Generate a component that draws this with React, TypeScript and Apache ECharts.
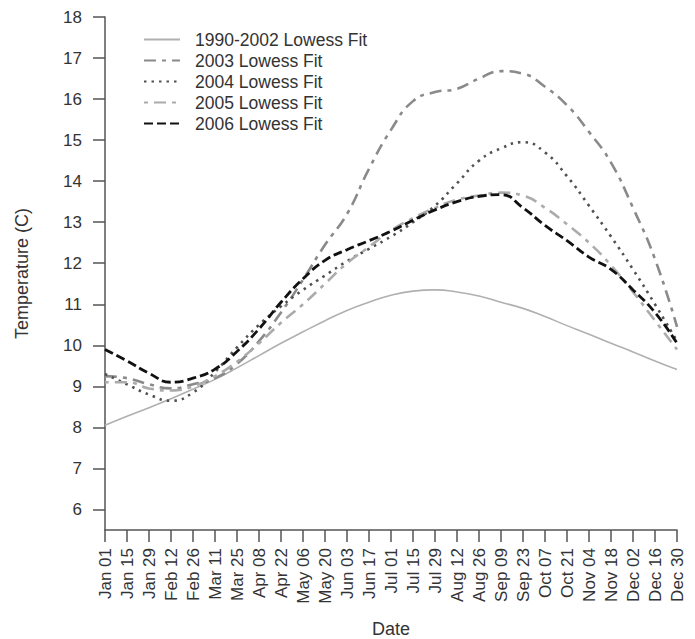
import React, { useEffect, useRef } from "react";
import * as echarts from "echarts";

const tickLabels = [
  "Jan 01", "Jan 15", "Jan 29", "Feb 12", "Feb 26", "Mar 11", "Mar 25", "Apr 08", "Apr 22",
  "May 06", "May 20", "Jun 03", "Jun 17", "Jul 01", "Jul 15", "Jul 29", "Aug 12", "Aug 26",
  "Sep 09", "Sep 23", "Oct 07", "Oct 21", "Nov 04", "Nov 18", "Dec 02", "Dec 16", "Dec 30",
];
const days = [0, 14, 28, 42, 56, 70, 84, 98, 112, 126, 140, 154, 168, 182, 196, 210, 224, 238, 252, 266, 280, 294, 308, 322, 336, 350, 364];

const fit1990_2002 = [8.05, 8.27, 8.48, 8.7, 8.93, 9.17, 9.45, 9.75, 10.05, 10.33, 10.6, 10.85, 11.05, 11.22, 11.32, 11.35, 11.3, 11.2, 11.05, 10.9, 10.7, 10.48, 10.27, 10.05, 9.84, 9.62, 9.41];
const fit2003 = [9.25, 9.2, 9.05, 8.95, 9.05, 9.2, 9.55, 10.1, 10.8, 11.6, 12.45, 13.2, 14.3, 15.25, 15.95, 16.17, 16.25, 16.5, 16.68, 16.62, 16.3, 15.85, 15.2, 14.45, 13.35, 12.1, 10.45];
const fit2004 = [9.3, 9.05, 8.8, 8.65, 8.85, 9.35, 9.95, 10.5, 10.95, 11.35, 11.7, 12.05, 12.35, 12.65, 13.0, 13.4, 13.95, 14.5, 14.8, 14.95, 14.7, 14.12, 13.4, 12.65, 11.85, 11.0, 10.1];
const fit2005 = [9.1, 9.1, 8.95, 8.9, 9.0, 9.25, 9.6, 10.05, 10.55, 11.0, 11.5, 12.0, 12.4, 12.8, 13.1, 13.35, 13.55, 13.65, 13.72, 13.65, 13.35, 12.95, 12.5, 11.95, 11.3, 10.6, 9.9];
const fit2006 = [9.9, 9.62, 9.32, 9.1, 9.2, 9.42, 9.85, 10.4, 11.05, 11.62, 12.07, 12.33, 12.55, 12.78, 13.05, 13.3, 13.5, 13.63, 13.67, 13.35, 12.92, 12.55, 12.15, 11.85, 11.35, 10.8, 10.05];
const yTicks = [6, 7, 8, 9, 10, 11, 12, 13, 14, 15, 16, 17, 18];

const seriesNames = ["1990-2002 Lowess Fit", "2003 Lowess Fit", "2004 Lowess Fit", "2005 Lowess Fit", "2006 Lowess Fit"];

export default function App() {
  const ref = useRef<HTMLDivElement>(null);
  useEffect(() => {
    if (!ref.current) return;
    const chart = echarts.init(ref.current, null, { renderer: "svg" });
    const pairs = (vals: number[]) => days.map((d, i) => [d, vals[i]]);
    const font = "Liberation Sans, Arial, sans-serif";
    const styles = [
      { color: "#b0b0b0", width: 1.6, type: "solid" as any },
      { color: "#8a8a8a", width: 2.6, type: [12, 6, 4, 6] as any },
      { color: "#505050", width: 2.6, type: [2.5, 5] as any },
      { color: "#ababab", width: 2.6, type: [4, 6, 12, 6] as any },
      { color: "#111111", width: 2.8, type: [9, 4] as any },
    ];
    const all = [fit1990_2002, fit2003, fit2004, fit2005, fit2006];
    chart.setOption({
      animation: false,
      backgroundColor: "#ffffff",
      grid: { left: 105, right: 18, top: 17, bottom: 109, outerBoundsMode: "none" } as any,
      legend: {
        left: 138,
        top: 24,
        orient: "vertical",
        itemWidth: 36,
        itemHeight: 21,
        itemGap: 0,
        itemStyle: { opacity: 0 },
        data: seriesNames,
        textStyle: { fontFamily: font, fontSize: 17.5, lineHeight: 21, color: "#333", padding: [0, 0, 0, 10] },
      },
      xAxis: {
        type: "value",
        min: 0,
        max: 364,
        interval: 14,
        name: "Date",
        nameLocation: "middle",
        nameGap: 90,
        nameTextStyle: { fontFamily: font, fontSize: 18, color: "#333" },
        splitLine: { show: false },
        axisLine: { lineStyle: { color: "#555", width: 1.5 } },
        axisTick: { length: 12, lineStyle: { color: "#555", width: 1.5 } },
        axisLabel: {
          rotate: 90,
          margin: 18,
          fontFamily: font,
          fontSize: 17,
          color: "#333",
          formatter: (v: number) => tickLabels[Math.round(v / 14)] ?? "",
        },
      },
      yAxis: {
        type: "value",
        min: 5.5,
        max: 18,
        name: "Temperature (C)",
        nameLocation: "middle",
        nameGap: 74,
        nameTextStyle: { fontFamily: font, fontSize: 18, color: "#333" },
        splitLine: { show: false },
        axisLine: { show: true, lineStyle: { color: "#555", width: 1.5 } },
        axisTick: { show: true, length: 12, customValues: yTicks, lineStyle: { color: "#555", width: 1.5 } },
        axisLabel: { customValues: yTicks, margin: 23, fontFamily: font, fontSize: 17, color: "#333" },
      },
      series: all.map((vals, i) => ({
        name: seriesNames[i],
        type: "line",
        data: pairs(vals),
        smooth: 0.5,
        symbol: "none",
        lineStyle: styles[i],
        itemStyle: { color: styles[i].color },
        z: i === 0 ? 1 : 2 + i,
      })),
    });
    return () => chart.dispose();
  }, []);
  return <div ref={ref} style={{ position: "fixed", left: 0, top: 0, width: 695, height: 639 }} />;
}
